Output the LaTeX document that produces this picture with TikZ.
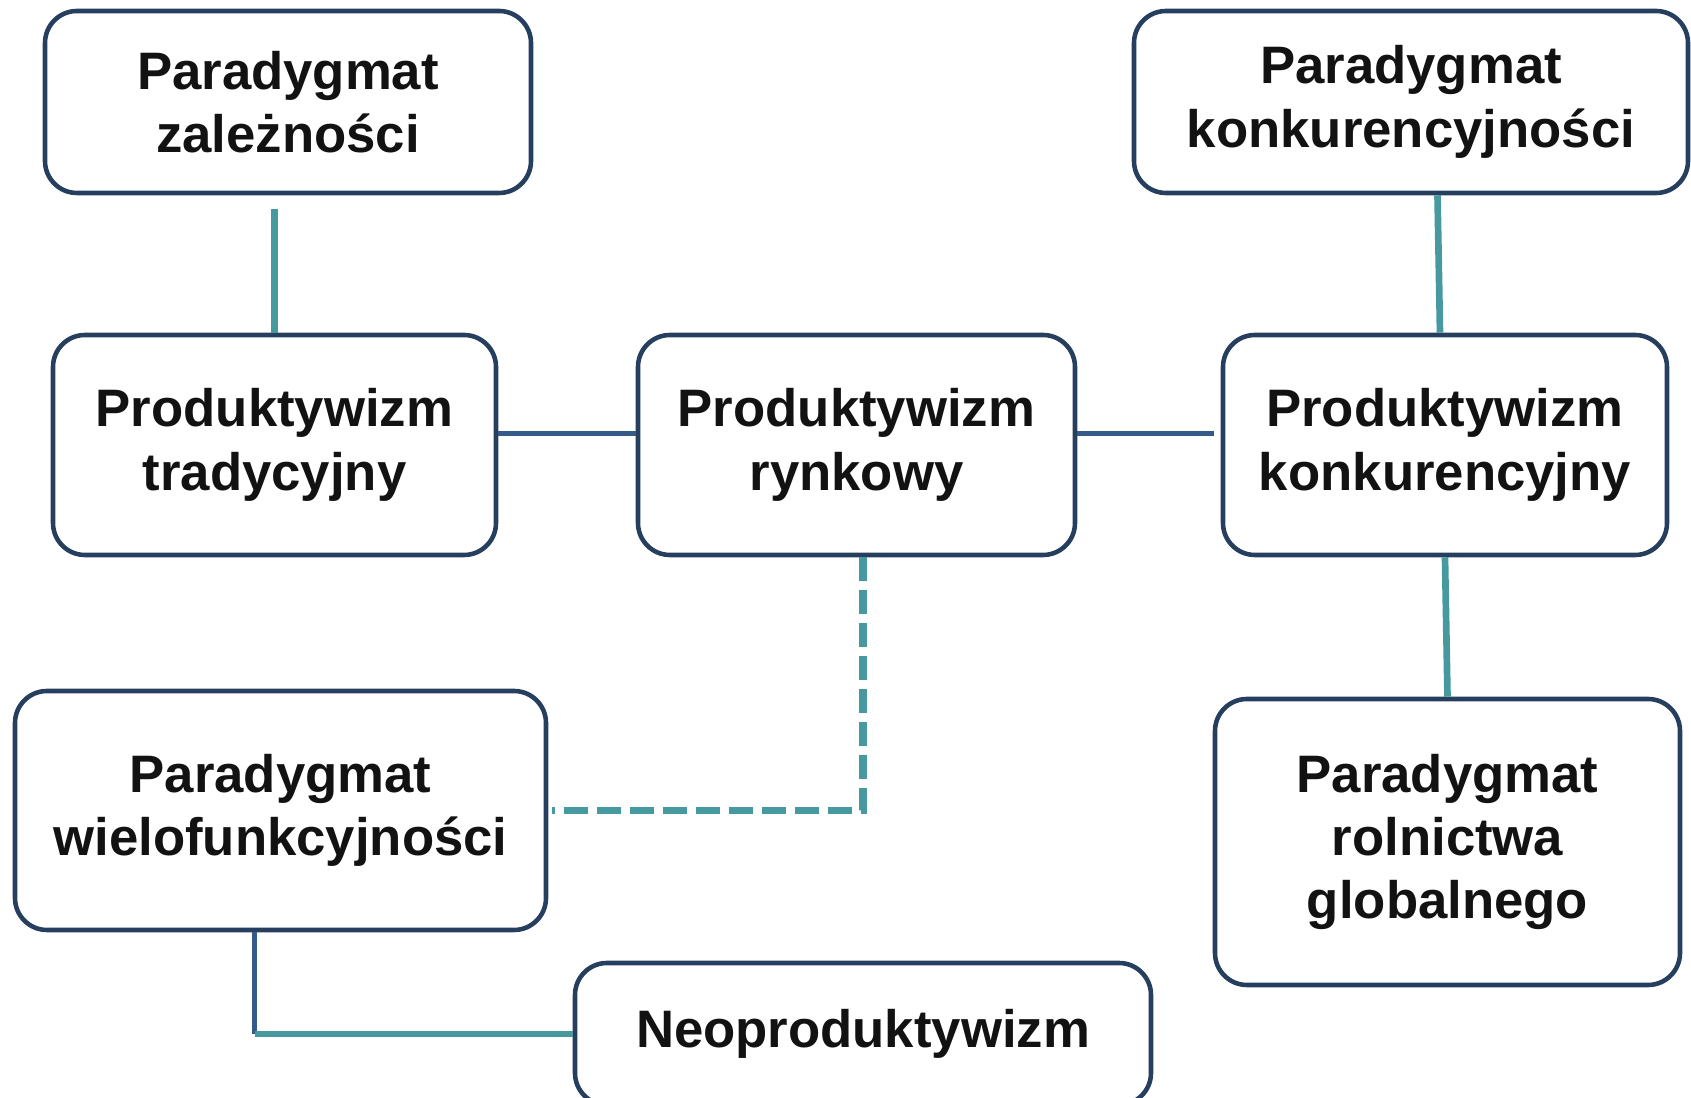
\documentclass[tikz,border=0pt]{standalone}
\usepackage{fontspec}
\setmainfont{Liberation Sans}
\usepackage{xcolor}
\usepackage{tikz}
\definecolor{boxline}{HTML}{263F5F}
\definecolor{tealline}{HTML}{4799A0}
\definecolor{blueline}{HTML}{345A8A}

\begin{document}
\begin{tikzpicture}[
    paradigm/.style={draw=boxline, line width=1.3pt, rounded corners=0.32cm, align=center,
        font=\fontsize{15}{18}\selectfont\bfseries, text=black!93, inner sep=0pt},
    tealcon/.style={draw=tealline, line width=1.9pt},
    bluecon/.style={draw=blueline, line width=1.4pt},
    dashcon/.style={tealcon, line width=2.1pt, dash pattern=on 0.24cm off 0.09cm},
]
    \useasboundingbox (0,0) rectangle (16.91,-10.98);

    \node[paradigm, minimum width=4.86cm, minimum height=1.82cm] (zal) at (2.88,-1.02) {Paradygmat\\zależności};
    \node[paradigm, minimum width=5.54cm, minimum height=1.82cm] (konk) at (14.11,-1.02) {Paradygmat\\konkurencyjności};
    \node[paradigm, minimum width=4.43cm, minimum height=2.20cm] (trad) at (2.745,-4.45) {Produktywizm\\tradycyjny};
    \node[paradigm, minimum width=4.37cm, minimum height=2.20cm] (rynk) at (8.565,-4.45) {Produktywizm\\rynkowy};
    \node[paradigm, minimum width=4.44cm, minimum height=2.20cm] (konkp) at (14.45,-4.45) {Produktywizm\\konkurencyjny};
    \node[paradigm, minimum width=5.31cm, minimum height=2.39cm] (wielo) at (2.805,-8.105) {Paradygmat\\wielofunkcyjności};
    \node[paradigm, minimum width=4.65cm, minimum height=2.86cm] (glob) at (14.475,-8.42) {Paradygmat\\rolnictwa\\globalnego};
    \node[paradigm, minimum width=5.76cm, minimum height=1.42cm] (neo) at (8.63,-10.34) {Neoproduktywizm};

    \coordinate (zalend) at ([yshift=-0.14cm]zal.south -| trad.north);
    \coordinate (bend) at ([xshift=-0.26cm]wielo.south |- neo.west);

    \draw[tealcon] (zalend) -- (trad.north);
    \draw[tealcon] ([xshift=0.265cm]konk.south) -- ([xshift=-0.05cm]konkp.north);
    \draw[bluecon, line width=1.2pt] ([yshift=0.115cm]trad.east) -- ([yshift=0.115cm]rynk.west);
    \draw[bluecon, line width=1.2pt] ([yshift=0.115cm]rynk.east) -- ([shift={(-0.07,0.115)}]konkp.west);
    \draw[dashcon] ([xshift=0.065cm]rynk.south) |- ([xshift=0.04cm]wielo.east);
    \draw[tealcon] (konkp.south) -- (glob.north);
    \draw[bluecon] (bend |- wielo.south) -- (bend);
    \draw[tealcon] (bend) -- (neo.west);
\end{tikzpicture}
\end{document}
